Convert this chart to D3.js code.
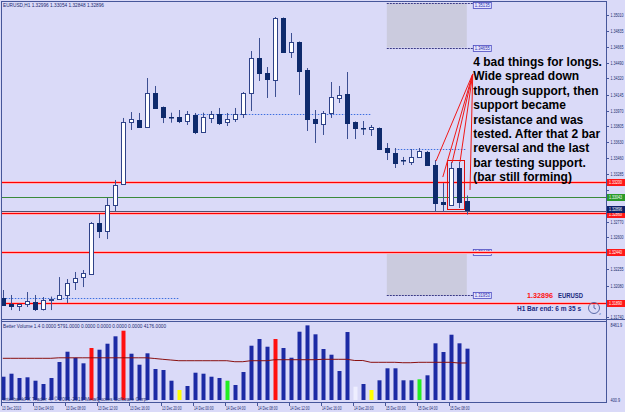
<!DOCTYPE html>
<html>
<head>
<meta charset="utf-8">
<script src="https://cdnjs.cloudflare.com/ajax/libs/d3/7.8.5/d3.min.js"></script>
<style>
body { margin: 0; background: #dadaf8; }
svg { display: block; }
text { font-family: "Liberation Sans", Arial, sans-serif; }
</style>
</head>
<body>
<div id="chart"></div>
<script>
var w = 625
var h = 412

// EURUSD H1 candles, bar 0 = 13 Dec 2010 00:00
var opens  = [1.31945,1.31880,1.31859,1.31880,1.31902,1.31826,1.31924,1.31934,1.31978,1.32118,
              1.32172,1.32205,1.32757,1.32675,1.32951,1.33179,1.33849,1.33871,1.33795,1.34163,
              1.34012,1.33903,1.33903,1.33860,1.33925,1.33744,1.33893,1.33936,1.33849,1.33882,
              1.33936,1.34163,1.34542,1.34379,1.34304,1.34974,1.34607,1.34715,1.34412,1.33882,
              1.33828,1.33947,1.34112,1.34152,1.33849,1.33784,1.33774,1.33784,1.33568,1.33514,
              1.33438,1.33417,1.33471,1.33528,1.33384,1.32984,1.32951,1.33352,1.32996]
var highs  = [1.32032,1.31978,1.31886,1.32010,1.31978,1.31956,1.31961,1.32172,1.32151,1.32227,
              1.32248,1.32767,1.32854,1.33027,1.33222,1.33893,1.33957,1.33947,1.34325,1.34239,
              1.34017,1.33950,1.33979,1.33968,1.33947,1.33950,1.33968,1.34001,1.33947,1.34001,
              1.34174,1.34617,1.34758,1.34444,1.34985,1.34980,1.34812,1.34720,1.34433,1.33979,
              1.33968,1.34282,1.34239,1.34390,1.33855,1.33860,1.33817,1.33790,1.33622,1.33568,
              1.33471,1.33557,1.33568,1.33536,1.33438,1.33189,1.33417,1.33417,1.33054]
var lows   = [1.31859,1.31815,1.31805,1.31848,1.31805,1.31810,1.31815,1.31929,1.31891,1.32032,
              1.32064,1.32199,1.32594,1.32583,1.32886,1.33168,1.33763,1.33790,1.33790,1.33995,
              1.33838,1.33842,1.33838,1.33817,1.33719,1.33741,1.33838,1.33817,1.33806,1.33849,
              1.33893,1.33968,1.34293,1.34109,1.34120,1.34601,1.34542,1.34141,1.33752,1.33622,
              1.33709,1.33893,1.34055,1.33665,1.33665,1.33709,1.33698,1.33546,1.33438,1.33352,
              1.33384,1.33384,1.33465,1.33379,1.32876,1.32876,1.32946,1.32919,1.32848]
var closes = [1.31870,1.31859,1.31880,1.31913,1.31826,1.31924,1.31934,1.31978,1.32108,1.32162,
              1.32216,1.32757,1.32670,1.32951,1.33168,1.33849,1.33882,1.33795,1.34163,1.34001,
              1.33903,1.33900,1.33860,1.33936,1.33741,1.33907,1.33936,1.33838,1.33882,1.33936,
              1.34163,1.34542,1.34379,1.34314,1.34974,1.34607,1.34715,1.34401,1.33882,1.33838,
              1.33947,1.34120,1.34141,1.33838,1.33784,1.33781,1.33798,1.33557,1.33525,1.33406,
              1.33435,1.33471,1.33536,1.33384,1.32973,1.32962,1.33352,1.32984,1.32896]

// Better Volume 1.4
var volumes = [2628,2967,2482,2561,2177,1805,2482,4286,5448,4771,
               4140,5866,5674,6351,7185,7817,5223,3982,5268,3497,
               3384,2177,1128,1579,3079,2967,2628,2482,2177,1692,
               3158,6125,6881,6012,6881,5866,4771,7704,8420,7411,
               5753,5110,3271,7670,1500,1805,1128,2222,3576,3576,
               2222,2222,2335,2786,6396,5414,7366,6396,5791]
var volAvg  = [4704,4704,4704,4704,4704,4704,4704,4760,4760,4760,
               4760,4760,4760,4760,4760,4760,4760,4760,4760,4681,
               4591,4512,4433,4433,4433,4433,4433,4433,4433,4320,
               4320,4433,4433,4433,4546,4546,4546,4546,4546,4546,
               4591,4591,4591,4591,4456,4456,4253,4253,4253,4253,
               4207,4207,4253,4253,4253,4253,4253,4176,4176]
var redBars = [11, 15, 34]
var yellowBars = [22, 46]
var greenBars = [28, 52]
var whiteBars = [44]

var timeLabels = ["13 Dec 2010","13 Dec 04:00","13 Dec 08:00","13 Dec 12:00","13 Dec 16:00",
                  "13 Dec 20:00","14 Dec 00:00","14 Dec 04:00","14 Dec 08:00","14 Dec 12:00",
                  "14 Dec 16:00","14 Dec 20:00","15 Dec 00:00","15 Dec 04:00","15 Dec 08:00"]
var priceTicks = [1.35010,1.34835,1.34665,1.34490,1.34320,1.34145,1.33970,1.33805,1.33630,1.33460,
                  1.33285,1.33115,1.32940,1.32770,1.32600,1.32425,1.32255,1.32080,1.31905,1.31740]

// horizontal lines and zones
var redLevels = [1.33200, 1.32860, 1.32440, 1.31890]
var greenLevel = 1.33043
var bidLevel = 1.32896
var zones = [[1.35135, 1.34655], [1.32440, 1.31975]]   // [top, bottom], from bar 48 to bar 58
var zoneLabels = [["1.35135", "1.34655"], ["1.32443", "1.31953"]]
var dottedLevels = [[1.31942, 0, 22], [1.33936, 24, 46], [1.33554, 49, 58]]

// annotation
var noteFrom = [58.74, 1.34369]
var noteTo = [[54.15, 1.33427], [55.0, 1.33254], [56.15, 1.33406], [57.15, 1.33417], [58.4, 1.33114]]
var noteLines = ["4 bad things for longs.", "Wide spread down", "through support, then",
                 "support became", "resistance and was", "tested. After that 2 bar",
                 "reversal and the last", "bar testing support.", "(bar still forming)"]

var frameCol = "#46569a"
var navy = "#0e2a6c"
var wickCol = "#3c4f92"

var svg = d3.select("#chart")
	.append("svg")
	.attr("width", w)
	.attr("height", h)

svg.append("rect").attr("width", w).attr("height", h).attr("fill", "#dadaf8")

var xBar = d3.scaleLinear().domain([0, 58]).range([2.8, 466.8])
var yPrice = d3.scaleLinear().domain([1.3174, 1.3501]).range([317, 14.7])
var yVol = d3.scaleLinear().domain([0, 8461.9]).range([400, 325])

function cx(i) { return Math.round(xBar(i)) }

svg.append("clipPath").attr("id", "mainClip")
	.append("rect").attr("x", 2).attr("y", 2).attr("width", 604).attr("height", 317)
svg.append("clipPath").attr("id", "volClip")
	.append("rect").attr("x", 2).attr("y", 322).attr("width", 604).attr("height", 80)

var mainG = svg.append("g").attr("clip-path", "url(#mainClip)")

// zones
zones.forEach(function(z, k) {
	var y0 = yPrice(z[0]), y1 = yPrice(z[1])
	mainG.append("rect")
		.attr("x", xBar(48)).attr("y", y0)
		.attr("width", xBar(58) - xBar(48)).attr("height", y1 - y0)
		.attr("fill", "#cbcbde")
	;[y0, y1].forEach(function(yy, j) {
		var ly = Math.max(Math.round(yy), 5)
		mainG.append("line")
			.attr("x1", xBar(48)).attr("x2", xBar(58) + 6)
			.attr("y1", Math.round(yy) + 0.5).attr("y2", Math.round(yy) + 0.5)
			.attr("stroke", "#3a3a86").attr("stroke-dasharray", "2,1")
		mainG.append("rect")
			.attr("x", xBar(58) + 6.5).attr("y", ly - 2.5)
			.attr("width", 18).attr("height", 6)
			.attr("fill", "#e4e4ff").attr("stroke", "#4a4ac0").attr("stroke-width", 0.8)
		mainG.append("text")
			.attr("x", xBar(58) + 8).attr("y", ly + 2.2)
			.attr("font-size", 4.5).attr("fill", "#2a2aa8")
			.attr("textLength", 15).attr("lengthAdjust", "spacingAndGlyphs")
			.text(zoneLabels[k][j])
	})
})

// dotted blue segments
dottedLevels.forEach(function(d) {
	var yy = Math.round(yPrice(d[0])) + 0.5
	mainG.append("line")
		.attr("x1", xBar(d[1])).attr("x2", xBar(d[2]))
		.attr("y1", yy).attr("y2", yy)
		.attr("stroke", "#3c6ee0").attr("stroke-dasharray", "1.5,1.5")
})

// level lines
redLevels.forEach(function(p) {
	var yy = Math.round(yPrice(p)) + 0.5
	mainG.append("line").attr("x1", 2).attr("x2", 606).attr("y1", yy).attr("y2", yy)
		.attr("stroke", "#ffb0b8").attr("stroke-width", 3)
	mainG.append("line").attr("x1", 2).attr("x2", 606).attr("y1", yy).attr("y2", yy)
		.attr("stroke", "#ff0000").attr("stroke-width", 1.2)
})
var gy = Math.round(yPrice(greenLevel)) + 0.5
mainG.append("line").attr("x1", 2).attr("x2", 606).attr("y1", gy).attr("y2", gy)
	.attr("stroke", "#3a8a3a").attr("stroke-width", 1)
var by = Math.round(yPrice(bidLevel)) + 1.5
mainG.append("line").attr("x1", 2).attr("x2", 606).attr("y1", by).attr("y2", by)
	.attr("stroke", "#50506e").attr("stroke-width", 1)

// candles
var bars = d3.range(opens.length).map(function(i) {
	return {i: i, o: opens[i], h: highs[i], l: lows[i], c: closes[i]}
})

mainG.selectAll(".wick")
	.data(bars)
	.enter()
	.append("line")
	.attr("x1", function(d) { return cx(d.i) + 0.5 })
	.attr("x2", function(d) { return cx(d.i) + 0.5 })
	.attr("y1", function(d) { return yPrice(d.h) })
	.attr("y2", function(d) { return yPrice(d.l) })
	.attr("stroke", wickCol)
	.attr("stroke-width", 1)

mainG.selectAll(".body")
	.data(bars)
	.enter()
	.append("rect")
	.attr("x", function(d) { return cx(d.i) - 1.5 })
	.attr("y", function(d) { return Math.round(yPrice(Math.max(d.o, d.c))) + 0.5 })
	.attr("width", 4)
	.attr("height", function(d) { return Math.max(Math.round(Math.abs(yPrice(d.o) - yPrice(d.c))), 0.5) })
	.attr("fill", function(d) { return d.c >= d.o ? "#ffffff" : navy })
	.attr("stroke", function(d) { return d.c >= d.o ? "#2e4288" : navy })
	.attr("stroke-width", 1)

// red box around the 2 bar reversal
var bx0 = cx(56) - 3.5, bx1 = cx(57) + 5.5
var byTop = Math.round(yPrice(d3.max([highs[56], highs[57]]))) - 1.5
var byBot = Math.round(yPrice(d3.min([lows[56], lows[57]]))) + 1.5
mainG.append("rect")
	.attr("x", bx0).attr("y", byTop)
	.attr("width", bx1 - bx0).attr("height", byBot - byTop)
	.attr("fill", "none").attr("stroke", "#e01010").attr("stroke-width", 1)

// annotation lines
noteTo.forEach(function(t) {
	mainG.append("line")
		.attr("x1", xBar(noteFrom[0])).attr("y1", yPrice(noteFrom[1]))
		.attr("x2", xBar(t[0])).attr("y2", yPrice(t[1]))
		.attr("stroke", "#f01818").attr("stroke-width", 1)
})

noteLines.forEach(function(s, k) {
	svg.append("text")
		.attr("x", xBar(noteFrom[0]) + 0.5)
		.attr("y", 66 + 14.4 * k)
		.attr("font-size", 12)
		.attr("font-weight", "bold")
		.attr("fill", "#000")
		.text(s)
})

// info text bottom right
svg.append("text").attr("x", 527).attr("y", 297.5)
	.attr("font-size", 8).attr("font-weight", "bold").attr("fill", "#ff1010")
	.attr("textLength", 26).attr("lengthAdjust", "spacingAndGlyphs")
	.text("1.32896")
svg.append("text").attr("x", 558).attr("y", 297.5)
	.attr("font-size", 8).attr("font-weight", "bold").attr("fill", "#1a2a80")
	.attr("textLength", 25).attr("lengthAdjust", "spacingAndGlyphs")
	.text("EURUSD")
svg.append("text").attr("x", 517).attr("y", 310.5)
	.attr("font-size", 8).attr("font-weight", "bold").attr("fill", "#1a2a80")
	.attr("textLength", 64).attr("lengthAdjust", "spacingAndGlyphs")
	.text("H1 Bar end: 6 m 35 s")

// clock icon
var clock = svg.append("g").attr("transform", "translate(594,308)")
clock.append("circle").attr("r", 5.5).attr("fill", "none").attr("stroke", "#5a6aa8").attr("stroke-width", 1)
clock.append("line").attr("x1", 0).attr("y1", 0).attr("x2", 0).attr("y2", -3.5).attr("stroke", "#5a6aa8")
clock.append("line").attr("x1", 0).attr("y1", 0).attr("x2", 2).attr("y2", 1).attr("stroke", "#5a6aa8")
clock.append("text").attr("x", 5).attr("y", 7).attr("font-size", 4).attr("fill", "#5a6aa8").text("z")

// title
svg.append("text").attr("x", 3).attr("y", 6.8)
	.attr("font-size", 5).attr("fill", "#1a2a70")
	.attr("textLength", 101).attr("lengthAdjust", "spacingAndGlyphs")
	.text("EURUSD,H1  1.32996 1.33054 1.32848 1.32896")

// volume pane
var volG = svg.append("g").attr("clip-path", "url(#volClip)")

function volColor(i) {
	if (redBars.indexOf(i) >= 0) return "#ff1010"
	if (yellowBars.indexOf(i) >= 0) return "#ffff00"
	if (greenBars.indexOf(i) >= 0) return "#22ee22"
	if (whiteBars.indexOf(i) >= 0) return "#eeeeff"
	return "#1c2aa4"
}

volG.selectAll(".vol")
	.data(volumes)
	.enter()
	.append("rect")
	.attr("x", function(d, i) { return cx(i) - 1.5 })
	.attr("y", function(d) { return yVol(d) })
	.attr("width", 4)
	.attr("height", function(d) { return yVol(0) - yVol(d) })
	.attr("fill", function(d, i) { return volColor(i) })

var maLine = d3.line()
	.x(function(d, i) { return xBar(i) })
	.y(function(d) { return yVol(d) })
volG.append("path")
	.attr("d", maLine(volAvg))
	.attr("fill", "none")
	.attr("stroke", "#8a1010")
	.attr("stroke-width", 1)

svg.append("text").attr("x", 3).attr("y", 328)
	.attr("font-size", 4.8).attr("fill", "#1a2a70")
	.attr("textLength", 163).attr("lengthAdjust", "spacingAndGlyphs")
	.text("Better Volume 1.4 0.0000 5791.0000 0.0000 0.0000 0.0000 0.0000 4176.0000")
svg.append("text").attr("x", 3).attr("y", 400.5)
	.attr("font-size", 4.8).attr("fill", "#1a2a70")
	.attr("textLength", 145).attr("lengthAdjust", "spacingAndGlyphs")
	.text("InterbankFX Trader 4, \u00a9 2001-2010 MetaQuotes Software Corp.")

// frames
svg.append("line").attr("x1", 1.5).attr("x2", 1.5).attr("y1", 1).attr("y2", 402.5).attr("stroke", frameCol)
svg.append("line").attr("x1", 1).attr("x2", 606).attr("y1", 1.5).attr("y2", 1.5).attr("stroke", frameCol)
svg.append("line").attr("x1", 606.5).attr("x2", 606.5).attr("y1", 1).attr("y2", 402.5).attr("stroke", frameCol)
svg.append("line").attr("x1", 1).attr("x2", 625).attr("y1", 319.5).attr("y2", 319.5).attr("stroke", frameCol)
svg.append("line").attr("x1", 1).attr("x2", 607).attr("y1", 321.5).attr("y2", 321.5).attr("stroke", frameCol)
svg.append("line").attr("x1", 1).attr("x2", 607).attr("y1", 402.5).attr("y2", 402.5).attr("stroke", frameCol)

// small right-axis text, squeezed horizontally with a transform
function axisText(x, y, s, col, sx) {
	svg.append("text")
		.attr("transform", "translate(" + x + "," + y + ") scale(" + sx + ",1)")
		.attr("font-size", 4.8).attr("fill", col)
		.text(s)
}

// price axis; labels hidden under a marker box are skipped, as in the terminal
var boxPrices = [redLevels[0], greenLevel, redLevels[1], bidLevel, redLevels[2], redLevels[3]]
priceTicks.forEach(function(p) {
	var yy = Math.round(yPrice(p)) + 0.5
	svg.append("line").attr("x1", 606).attr("x2", 609).attr("y1", yy).attr("y2", yy).attr("stroke", frameCol)
	var hidden = boxPrices.some(function(b) { return Math.abs(yPrice(b) - yy) < 7 })
	if (hidden) return
	axisText(610.5, yy + 1.8, p.toFixed(5), "#1a2a70", 0.75)
})

function priceBox(p, label, fill, textCol, dy) {
	var yy = Math.round(yPrice(p)) + (dy || 0)
	svg.append("rect").attr("x", 607).attr("y", yy - 3).attr("width", 18).attr("height", 7).attr("fill", fill)
	axisText(609, yy + 2.2, label, textCol, 0.75)
}
priceBox(redLevels[0], "1.33200", "#ff1818", "#ffffff")
priceBox(greenLevel, "1.33043", "#2a9a2a", "#ffffff")
priceBox(redLevels[1], "1.32860", "#ff1818", "#ffffff", 1)
priceBox(bidLevel, "1.32896", "#0e2068", "#ffffff", -1)
priceBox(redLevels[2], "1.32440", "#ff1818", "#ffffff")
priceBox(redLevels[3], "1.31890", "#ff1818", "#ffffff")

// volume axis
;[8461.9, 400.9].forEach(function(v, k) {
	var yy = k == 0 ? 324.5 : 399.5
	axisText(610.5, yy + 2, v.toFixed(1), "#1a2a70", 0.8)
})

// time axis
timeLabels.forEach(function(s, k) {
	var xx = cx(k * 4)
	svg.append("line").attr("x1", xx - 1.5).attr("x2", xx - 1.5).attr("y1", 402).attr("y2", 406).attr("stroke", frameCol)
	svg.append("text").attr("x", Math.max(xx - 1, 1)).attr("y", 410)
		.attr("font-size", 4.8).attr("fill", "#1a2a70")
		.attr("textLength", k == 0 ? 19 : 19.5).attr("lengthAdjust", "spacingAndGlyphs")
		.text(s)
})
</script>
</body>
</html>
